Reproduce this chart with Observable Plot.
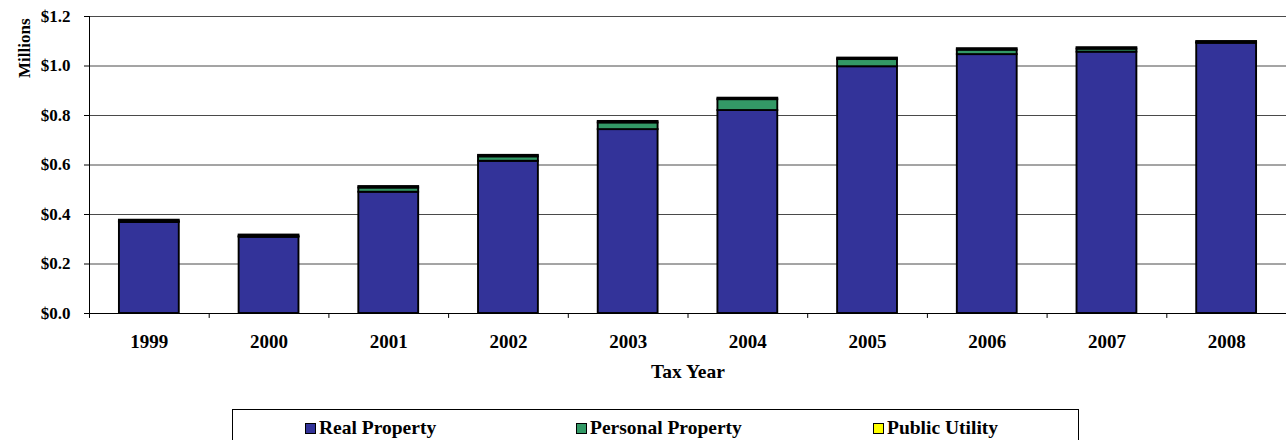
<!DOCTYPE html>
<html>
<head>
<meta charset="utf-8">
<script src="https://cdn.jsdelivr.net/npm/d3@7"></script>
<script src="https://cdn.jsdelivr.net/npm/@observablehq/plot@0.6"></script>
<style>
  html, body { margin: 0; padding: 0; background: #fff; }
  #wrap { position: relative; width: 1286px; height: 440px; overflow: hidden; font-family: "Liberation Serif", "Times New Roman", serif; font-weight: bold; }
  #legend { position: absolute; left: 232px; top: 409px; width: 847px; height: 40px; border: 1px solid #000; box-sizing: border-box; }
  .item { position: absolute; top: 7px; display: flex; align-items: center; font-size: 19.5px; line-height: 22px; color: #000; white-space: nowrap; }
  .sw { width: 9px; height: 9px; border: 1.5px solid #000; margin-right: 3px; }
</style>
</head>
<body>
<div id="wrap">
  <div id="chart"></div>
  <div id="legend"></div>
</div>
<script>
const years = ["1999", "2000", "2001", "2002", "2003", "2004", "2005", "2006", "2007", "2008"];
const realProperty     = [0.368, 0.308, 0.490, 0.615, 0.743, 0.820, 0.997, 1.046, 1.056, 1.092];
const personalProperty = [0.003, 0.003, 0.017, 0.018, 0.027, 0.044, 0.029, 0.018, 0.012, 0.002];
const publicUtility    = [0.006, 0.006, 0.006, 0.006, 0.006, 0.006, 0.006, 0.006, 0.006, 0.005];
const seriesNames = ["Real Property", "Personal Property", "Public Utility"];
const seriesColors = ["#333399", "#339966", "#FFFF00"];
const yTicks = [0, 0.2, 0.4, 0.6, 0.8, 1.0, 1.2];

const seriesValues = [realProperty, personalProperty, publicUtility];
const data = [];
years.forEach((yr, i) => {
  seriesNames.forEach((s, k) => data.push({year: yr, series: s, value: seriesValues[k][i]}));
});

const W = 1286, H = 400, mL = 89, mR = 0, mT = 16, mB = 87;
const step = (W - mL - mR) / years.length;

const chart = Plot.plot({
  width: W, height: H,
  marginLeft: mL, marginRight: mR, marginTop: mT, marginBottom: mB,
  style: {fontFamily: "Liberation Serif, Times New Roman, serif", fontWeight: "bold", color: "#000", background: "#fff"},
  x: {domain: years, paddingInner: 0.5, paddingOuter: 0.25, round: false, label: null},
  y: {domain: [0, 1.2], label: null},
  color: {domain: seriesNames, range: seriesColors},
  marks: [
    Plot.gridY(yTicks, {stroke: "#4a4a4a", strokeOpacity: 1, strokeWidth: 1}),
    Plot.barY(data, {x: "year", y: "value", fill: "series", stroke: "#000", strokeWidth: 1.9}),
    Plot.ruleY([0], {stroke: "#000", strokeWidth: 1}),
    Plot.ruleX([years[0]], {x: d => d, y1: 0, y2: 1.2, dx: -step / 2, stroke: "#000", strokeWidth: 1}),
    Plot.ruleX(years, {x: d => d, y1: 0, y2: -0.02, dx: -step / 2, stroke: "#000", strokeWidth: 1}),
    Plot.axisY(yTicks, {tickFormat: d => "$" + d.toFixed(1), tickSize: 5, tickPadding: 14, fontSize: 17, fontWeight: "bold", label: null, stroke: "#000"}),
    Plot.axisX({tickSize: 0, tickPadding: 21, fontSize: 19, fontWeight: "bold", label: null}),
    Plot.text(["Tax Year"], {frameAnchor: "bottom", dy: 64, fontSize: 19.5, fontWeight: "bold", fill: "#000"}),
    Plot.text(["Millions"], {frameAnchor: "top-left", dx: -72, dy: 2, rotate: -90, textAnchor: "end", fontSize: 17, fontWeight: "bold", fill: "#000"})
  ]
});
document.getElementById("chart").appendChild(chart);

const legend = document.getElementById("legend");
const lefts = [72, 343, 640];
seriesNames.forEach((s, k) => {
  const it = document.createElement("div");
  it.className = "item";
  it.style.left = lefts[k] + "px";
  const sw = document.createElement("span");
  sw.className = "sw";
  sw.style.background = seriesColors[k];
  const t = document.createElement("span");
  t.textContent = s;
  it.appendChild(sw); it.appendChild(t);
  legend.appendChild(it);
});
</script>
</body>
</html>
